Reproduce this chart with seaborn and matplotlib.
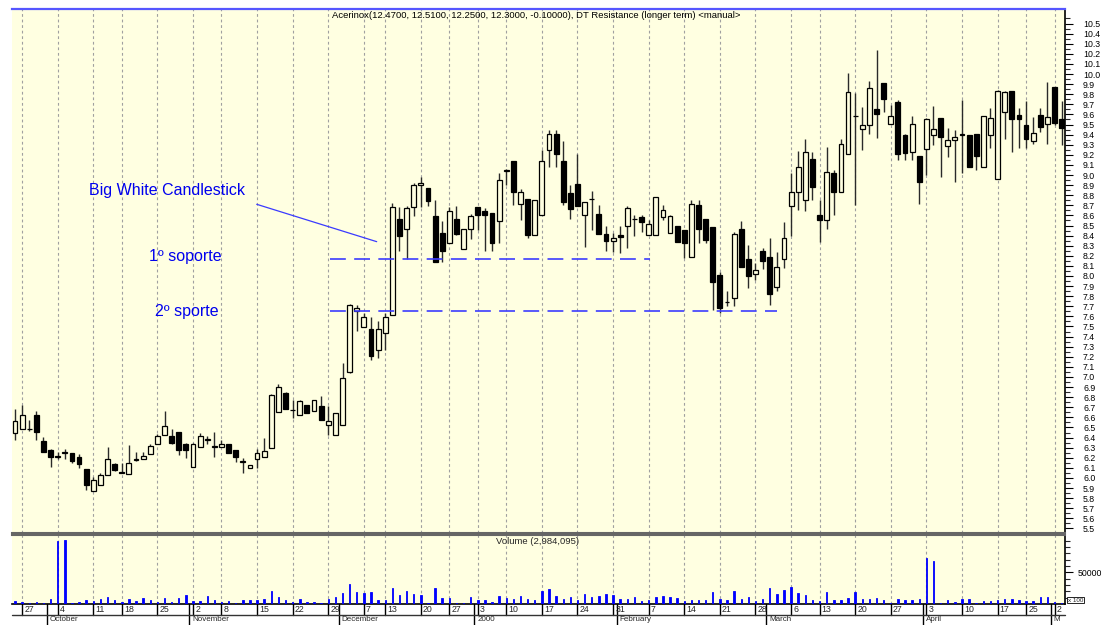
import matplotlib
matplotlib.use('Agg')
import matplotlib.pyplot as plt
import matplotlib.transforms as mtrans
from matplotlib.lines import Line2D
import numpy as np
import pandas as pd
import seaborn as sns

# ---------------- data (trading-day index 0 = 24 Sep 1999) ----------------
day = list(range(148))
open_ = [6.45, 6.48, 6.48, 6.62, 6.37, 6.28, 6.21, 6.25, 6.25, 6.21,
         6.09, 5.87, 5.93, 6.03, 6.14, 6.06, 6.04, 6.18, 6.19, 6.24,
         6.34, 6.43, 6.42, 6.46, 6.34, 6.11, 6.31, 6.38, 6.31, 6.31,
         6.34, 6.28, 6.16, 6.10, 6.19, 6.21, 6.30, 6.65, 6.84, 6.67,
         6.62, 6.72, 6.66, 6.71, 6.52, 6.43, 6.52, 7.05, 7.65, 7.49,
         7.48, 7.27, 7.44, 7.61, 8.56, 8.47, 8.68, 8.90, 8.87, 8.59,
         8.43, 8.33, 8.56, 8.27, 8.47, 8.68, 8.64, 8.62, 8.54, 9.04,
         9.14, 8.71, 8.76, 8.41, 8.60, 9.25, 9.41, 9.14, 8.82, 8.91,
         8.60, 8.76, 8.61, 8.42, 8.35, 8.41, 8.50, 8.56, 8.58, 8.41,
         8.41, 8.58, 8.43, 8.50, 8.46, 8.19, 8.70, 8.56, 8.49, 8.01,
         7.74, 7.78, 8.47, 8.17, 8.02, 8.25, 8.19, 7.89, 8.17, 8.69,
         8.83, 8.75, 9.16, 8.60, 8.55, 9.02, 8.83, 9.21, 9.58, 9.46,
         9.50, 9.65, 9.91, 9.51, 9.72, 9.40, 9.23, 9.19, 9.26, 9.40,
         9.56, 9.29, 9.35, 9.41, 9.40, 9.41, 9.08, 9.40, 8.96, 9.62,
         9.83, 9.59, 9.50, 9.34, 9.59, 9.51, 9.87, 9.55]
high = [6.68, 6.72, 6.57, 6.66, 6.41, 6.29, 6.26, 6.29, 6.25, 6.24,
        6.09, 6.01, 6.05, 6.31, 6.15, 6.15, 6.33, 6.26, 6.26, 6.34,
        6.44, 6.66, 6.48, 6.46, 6.35, 6.35, 6.45, 6.42, 6.46, 6.38,
        6.34, 6.28, 6.20, 6.13, 6.29, 6.40, 6.83, 6.93, 6.85, 6.77,
        6.77, 6.72, 6.77, 6.81, 6.71, 6.64, 7.14, 7.72, 7.71, 7.63,
        7.59, 7.55, 7.63, 8.72, 8.68, 8.69, 8.92, 8.98, 8.87, 8.75,
        8.54, 8.68, 8.69, 8.47, 8.61, 8.68, 8.67, 8.62, 9.02, 9.06,
        9.14, 8.86, 8.76, 8.75, 9.25, 9.45, 9.45, 9.34, 8.90, 9.21,
        8.73, 8.84, 8.70, 8.50, 8.43, 8.50, 8.69, 8.60, 8.60, 8.55,
        8.78, 8.70, 8.60, 8.50, 8.46, 8.75, 8.75, 8.56, 8.49, 8.04,
        7.85, 8.44, 8.54, 8.31, 8.13, 8.28, 8.38, 8.24, 8.53, 9.02,
        9.24, 9.36, 9.23, 8.75, 9.28, 9.05, 9.36, 10.01, 9.81, 9.67,
        9.93, 10.24, 9.91, 9.69, 9.74, 9.41, 9.58, 9.19, 9.56, 9.68,
        9.56, 9.47, 9.45, 9.74, 9.40, 9.41, 9.58, 9.66, 9.84, 9.83,
        9.83, 9.66, 9.73, 9.57, 9.66, 9.92, 9.87, 9.73]
low = [6.38, 6.48, 6.47, 6.38, 6.26, 6.11, 6.19, 6.19, 6.15, 6.10,
       5.88, 5.87, 5.93, 6.03, 6.07, 6.05, 6.04, 6.17, 6.19, 6.24,
       6.34, 6.43, 6.34, 6.23, 6.20, 6.11, 6.31, 6.34, 6.21, 6.31,
       6.25, 6.16, 6.05, 6.10, 6.10, 6.21, 6.30, 6.65, 6.68, 6.59,
       6.62, 6.64, 6.66, 6.57, 6.43, 6.43, 6.52, 7.04, 7.46, 7.49,
       7.17, 7.19, 7.27, 7.61, 8.25, 8.17, 8.59, 8.68, 8.69, 8.14,
       8.14, 8.33, 8.41, 8.27, 8.37, 8.46, 8.25, 8.25, 8.33, 8.90,
       8.70, 8.55, 8.38, 8.41, 8.60, 9.08, 9.08, 8.70, 8.56, 8.69,
       8.29, 8.46, 8.42, 8.25, 8.24, 8.23, 8.28, 8.40, 8.44, 8.41,
       8.41, 8.55, 8.43, 8.34, 8.18, 8.19, 8.33, 8.33, 7.66, 7.63,
       7.70, 7.70, 8.09, 7.88, 7.96, 8.07, 7.71, 7.85, 8.08, 8.40,
       8.65, 8.64, 8.75, 8.34, 8.47, 8.60, 8.83, 9.21, 8.70, 9.25,
       9.41, 9.37, 9.62, 9.51, 9.15, 9.15, 9.15, 8.71, 9.00, 9.30,
       8.98, 9.18, 8.93, 9.02, 9.08, 9.05, 9.08, 9.27, 8.96, 9.36,
       9.23, 9.27, 9.27, 9.31, 9.43, 9.31, 9.50, 9.30]
close = [6.56, 6.62, 6.48, 6.46, 6.26, 6.21, 6.21, 6.25, 6.17, 6.14,
         5.93, 5.98, 6.03, 6.19, 6.08, 6.05, 6.15, 6.18, 6.22, 6.32,
         6.42, 6.51, 6.35, 6.28, 6.28, 6.34, 6.42, 6.38, 6.31, 6.34,
         6.25, 6.21, 6.16, 6.13, 6.25, 6.27, 6.82, 6.90, 6.68, 6.67,
         6.76, 6.64, 6.77, 6.57, 6.56, 6.64, 6.99, 7.71, 7.68, 7.59,
         7.21, 7.48, 7.59, 8.68, 8.40, 8.67, 8.90, 8.92, 8.74, 8.14,
         8.25, 8.64, 8.42, 8.47, 8.59, 8.60, 8.60, 8.33, 8.95, 9.05,
         8.83, 8.83, 8.41, 8.75, 9.14, 9.41, 9.21, 8.73, 8.66, 8.69,
         8.73, 8.76, 8.42, 8.35, 8.38, 8.39, 8.67, 8.56, 8.53, 8.51,
         8.78, 8.65, 8.59, 8.34, 8.33, 8.71, 8.47, 8.36, 7.94, 7.68,
         7.74, 8.42, 8.09, 8.00, 8.06, 8.15, 7.82, 8.09, 8.38, 8.83,
         9.08, 9.23, 8.88, 8.55, 9.03, 8.83, 9.31, 9.82, 9.58, 9.50,
         9.86, 9.60, 9.75, 9.58, 9.21, 9.22, 9.51, 8.93, 9.55, 9.46,
         9.38, 9.35, 9.38, 9.40, 9.08, 9.19, 9.58, 9.56, 9.83, 9.82,
         9.55, 9.55, 9.36, 9.42, 9.48, 9.57, 9.52, 9.47]
volume = [5100, 3000, 1500, 3000, 2000, 7600, 99500, 100500, 1500, 3000,
          6100, 4600, 7600, 11200, 6100, 3000, 7600, 4000, 8700, 5600,
          3600, 9700, 3000, 9700, 13800, 4600, 4600, 12200, 6100, 2500,
          4600, 1500, 6100, 7100, 6600, 7600, 20900, 10700, 6100, 3600,
          7600, 3000, 2500, 2000, 7600, 10700, 16800, 31600, 18400, 16800,
          18400, 6100, 6100, 24500, 13800, 20900, 15300, 13800, 1000, 26000,
          8700, 10200, 1000, 1500, 10700, 7100, 6100, 3000, 12200, 10200,
          8200, 12200, 7600, 6100, 20900, 23000, 12200, 8200, 10700, 7100,
          16300, 10700, 12200, 16300, 13800, 8200, 8200, 10700, 4100, 7100,
          10700, 12200, 10700, 9700, 4100, 7100, 7100, 7100, 19400, 8200,
          7100, 20900, 8200, 10700, 4100, 8200, 26000, 15300, 21900, 27500,
          17900, 13800, 7100, 4100, 19400, 6100, 7100, 9700, 19400, 8200,
          8200, 9700, 7100, 2000, 8200, 7100, 6100, 8200, 71900, 67300,
          1000, 6100, 3000, 8200, 8200, 1000, 4600, 4600, 7100, 8200,
          8200, 6100, 4600, 4600, 10700, 10700, 3000, 1500]

day_tick_pos = [1, 6, 11, 15, 20, 25, 29, 34, 39, 44, 49, 52, 57, 61, 65, 69,
                74, 79, 84, 89, 94, 99, 104, 109, 113, 118, 123, 128, 133, 138,
                142, 146]
day_tick_labels = ['27', '4', '11', '18', '25', '2', '8', '15', '22', '29', '7',
                   '13', '20', '27', '3', '10', '17', '24', '31', '7', '14', '21',
                   '28', '6', '13', '20', '27', '3', '10', '17', '25', '2']
month_pos = [5, 25, 46, 65, 85, 106, 128, 146]
month_labels = ['October', 'November', 'December', '2000', 'February', 'March',
                'April', 'M']

support_levels = [8.165, 7.656]
support_starts = [44.2, 44.2]
support_ends = [89.2, 107.0]
support_labels = ['1º soporte', '2º sporte']
support_label_pos = [(23.9, 8.198), (24.2, 7.650)]

title = ('Acerinox(12.4700, 12.5100, 12.2500, 12.3000, -0.10000), '
         'DT Resistance (longer term) <manual>')
vol_title = 'Volume (2,984,095)'

# ---------------- styling ----------------
sns.set_theme(style='white')
plt.rcParams['font.family'] = ['Liberation Sans', 'DejaVu Sans']

BG = '#FFFFE1'
W, H = 1112, 625


def box(l, t, r, b):
    return [l / W, 1 - b / H, (r - l) / W, (b - t) / H]


def fy(ypx):
    return 1 - ypx / H


fig = plt.figure(figsize=(W / 100, H / 100), dpi=100, facecolor='white')
XLIM = (-0.42, 147.47)

# ---------------- price panel ----------------
ax = fig.add_axes(box(12, 9, 1065, 533), facecolor=BG)
ax.set_xlim(*XLIM)
ax.set_ylim(5.455, 10.644)
for p in day_tick_pos:
    ax.axvline(p, color='#a0a0a0', lw=0.8, ls=(0, (2.5, 2.5)), zorder=0)

df = pd.DataFrame(dict(day=day, open=open_, high=high, low=low, close=close,
                       volume=volume))
up = df['close'] >= df['open']
ax.vlines(df['day'], df['low'], df['high'], color='#2a2a2a', lw=1.0, zorder=2)
body_h = (df['close'] - df['open']).abs().clip(lower=0.004)
ax.bar(df['day'], body_h, bottom=df[['open', 'close']].min(axis=1), width=0.68,
       color=np.where(up, BG, 'black'), edgecolor='black', linewidth=0.9,
       zorder=3)

for lvl, s, e in zip(support_levels, support_starts, support_ends):
    ax.hlines(lvl, s, e, colors='#3c3cff', lw=1.2,
              linestyles=[(0, (9.5, 5))], zorder=4)
for lab, (x, y) in zip(support_labels, support_label_pos):
    ax.text(x, y, lab, color='#0000EE', fontsize=11.5, ha='center',
            va='center')
ax.text(21.3, 8.85, 'Big White Candlestick', color='#0000EE', fontsize=11.5,
        ha='center', va='center')
ax.plot([33.95, 50.8], [8.71, 8.34], color='#3a3aff', lw=0.9, zorder=4)

ax.yaxis.tick_right()
yt = np.round(np.arange(5.5, 10.51, 0.1), 1)
ax.set_yticks(yt)
ax.set_yticklabels([f'{v:.1f}' for v in yt])
ax.set_yticks(np.round(np.arange(5.55, 10.6, 0.1), 2), minor=True)
ax.tick_params(axis='y', which='major', length=6, width=0.8, direction='out',
               pad=7, labelsize=6.3, colors='black', right=True, left=False)
ax.tick_params(axis='y', which='minor', length=3.5, width=0.8,
               direction='out', right=True, left=False)
ax.set_xticks([])
ax.spines['left'].set_visible(False)
ax.spines['top'].set_color('#5555ff')
ax.spines['top'].set_linewidth(1.6)
ax.spines['right'].set_color('black')
ax.spines['right'].set_linewidth(1.2)
ax.spines['bottom'].set_color('#666666')
ax.spines['bottom'].set_linewidth(1.5)

fig.text(536 / W, fy(15), title, ha='center', va='center', fontsize=6.8,
         color='black')

# ---------------- volume panel ----------------
axv = fig.add_axes(box(12, 535, 1065, 604), facecolor=BG)
sns.barplot(data=df, x='day', y='volume', native_scale=True, width=0.2,
            color='#0000FF', saturation=1, errorbar=None, linewidth=0.6,
            edgecolor='#0000FF', ax=axv, zorder=3)
axv.set_xlim(*XLIM)
axv.set_ylim(0, 109000)
for p in day_tick_pos:
    axv.axvline(p, color='#a0a0a0', lw=0.8, ls=(0, (2.5, 2.5)), zorder=0)
axv.set_xlabel('')
axv.set_ylabel('')
axv.set_xticks([])
axv.yaxis.tick_right()
axv.set_yticks([50000])
axv.set_yticklabels(['50000'])
axv.set_yticks(np.arange(10000, 109000, 10000), minor=True)
axv.tick_params(axis='y', which='major', length=6, width=0.8,
                direction='out', pad=3, labelsize=6.3, colors='black',
                right=True, left=False)
axv.tick_params(axis='y', which='minor', length=3.5, width=0.8,
                direction='out', right=True, left=False)
axv.spines['left'].set_visible(False)
axv.spines['top'].set_color('#666666')
axv.spines['top'].set_linewidth(1.5)
axv.spines['right'].set_color('black')
axv.spines['right'].set_linewidth(1.2)
axv.spines['bottom'].set_color('black')
axv.spines['bottom'].set_linewidth(1.2)
fig.text(538 / W, fy(542), vol_title, ha='center', va='center', fontsize=6.8)
fig.text(1068 / W, fy(600), 'x 100', ha='left', va='center', fontsize=4.5,
         bbox=dict(boxstyle='square,pad=0.15', fc='white', ec='black',
                   lw=0.6))

# ---------------- date axis ----------------
tr = mtrans.blended_transform_factory(axv.transData, fig.transFigure)
fig.add_artist(Line2D([12 / W, 1065 / W], [fy(614.5), fy(614.5)],
                      color='#333333', lw=1.0))
for p, lab in zip(day_tick_pos, day_tick_labels):
    axv.plot([p, p], [fy(604), fy(614.5)], transform=tr, color='black',
             lw=1.0, clip_on=False)
    axv.text(p + 0.3, fy(609.5), lab, transform=tr, fontsize=6.3,
             ha='left', va='center', clip_on=False)
for p, lab in zip(month_pos, month_labels):
    axv.plot([p - 0.5, p - 0.5], [fy(604), fy(625)], transform=tr,
             color='black', lw=1.0, clip_on=False)
    axv.text(p - 0.1, fy(619.8), lab, transform=tr, fontsize=5.8,
             ha='left', va='center', clip_on=False)

fig.savefig('out.png', dpi=100, facecolor='white')
